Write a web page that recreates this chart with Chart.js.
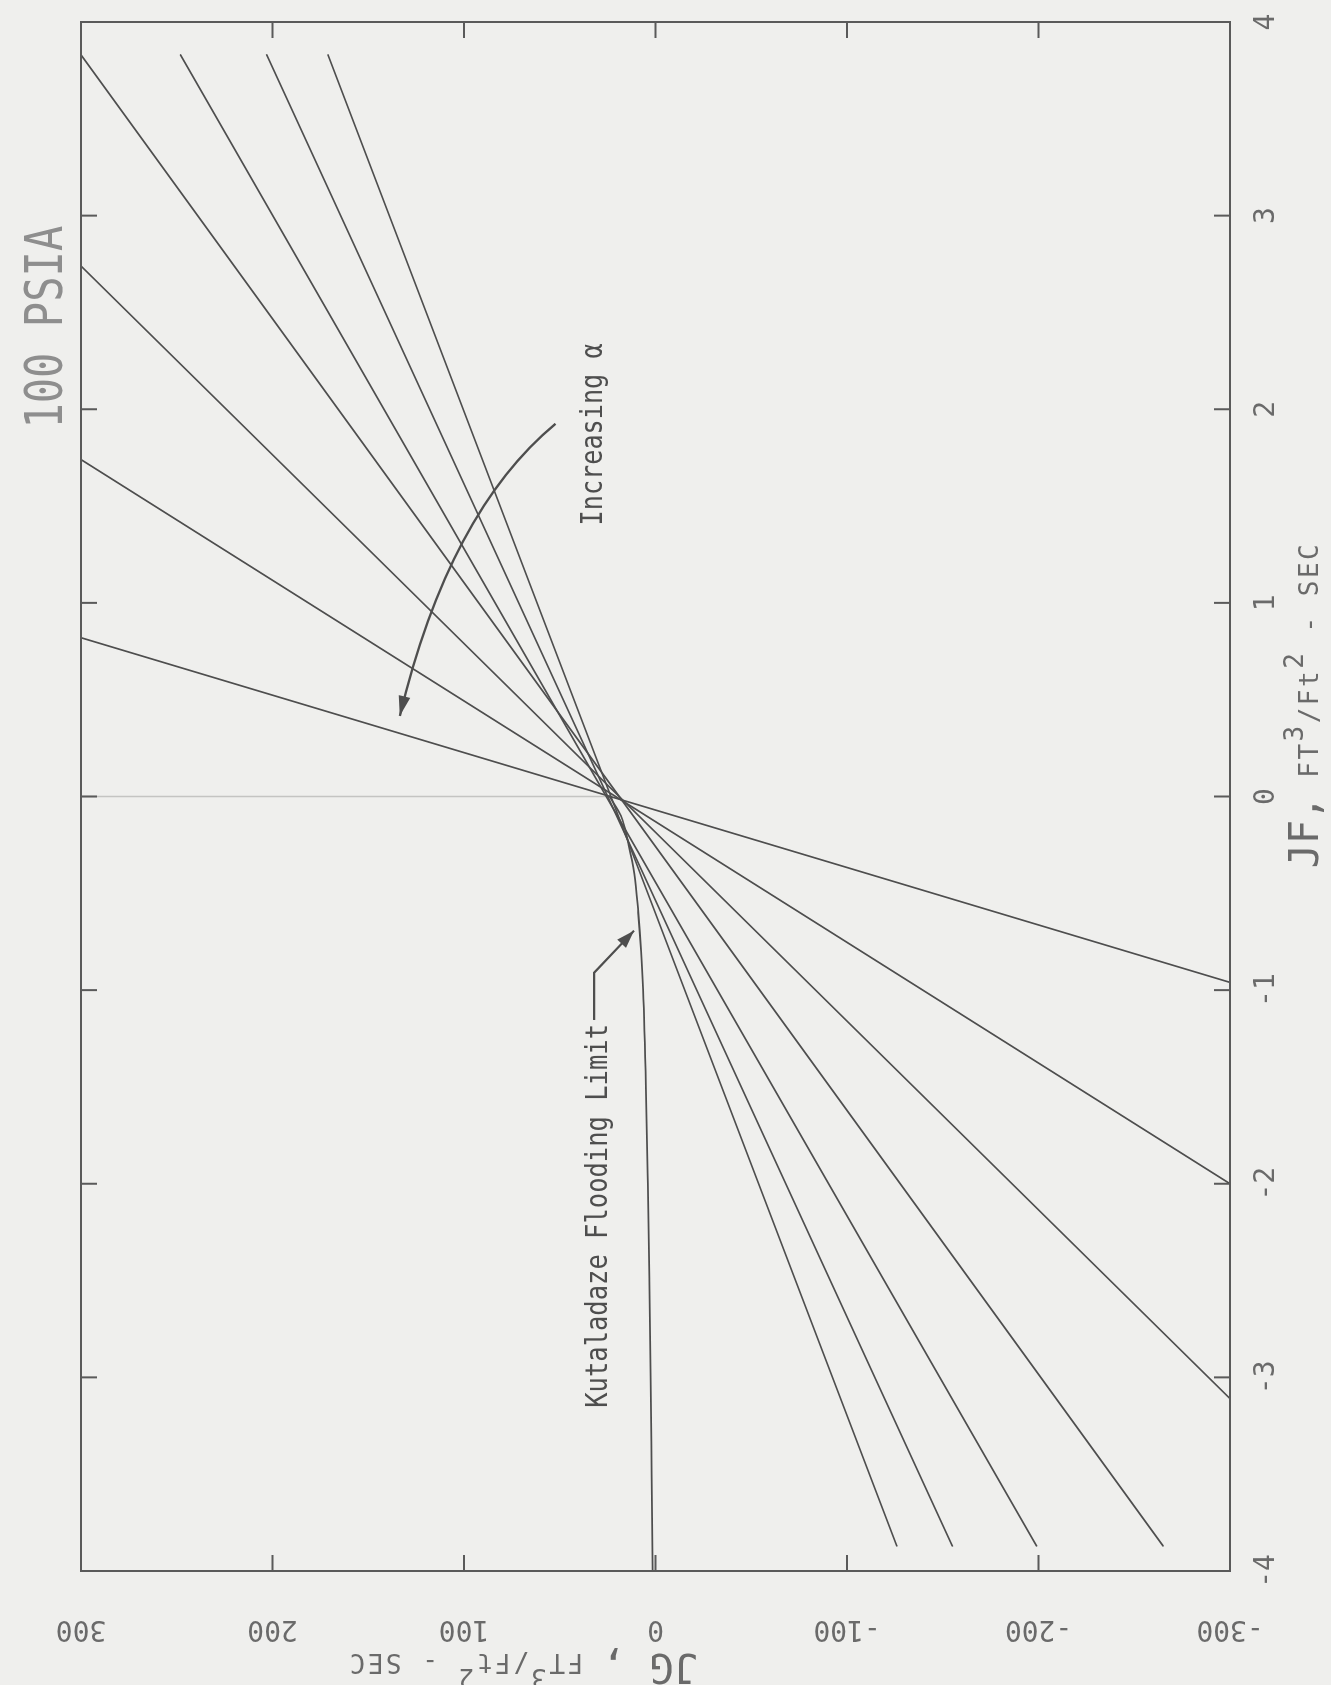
<!DOCTYPE html>
<html>
<head>
<meta charset="utf-8">
<title>100 PSIA</title>
<script src="https://cdn.jsdelivr.net/npm/chart.js@4.4.1/dist/chart.umd.min.js"></script>
<style>
  html, body { margin: 0; padding: 0; background: #efefed; overflow: hidden; }
  #page { position: absolute; left: 0; top: 0; width: 1331px; height: 1685px; overflow: hidden; background: #efefed; }
  /* the figure is laid out landscape and turned a quarter turn on the page */
  #sheet { position: absolute; left: 0; top: 0; width: 1685px; height: 1331px;
           transform-origin: 0 0; transform: translate(0px, 1685px) rotate(-90deg); }
</style>
</head>
<body>
<div id="page"><div id="sheet"><canvas id="fig" width="1685" height="1331"></canvas></div></div>
<script>
// Lines of constant void fraction: end points (JF, JG) of each line
const jfUpper = [3.83, 3.83, 3.83, 3.83, 2.74, 1.74, 0.82];
const jgUpper = [171, 203, 248, 300, 300, 300, 300];
const jfLower = [-3.87, -3.87, -3.87, -3.87, -3.11, -2.00, -0.96];
const jgLower = [-126, -155, -199, -265, -300, -300, -300];

// Kutateladze flooding limit
const floodJF = [0, -0.1, -0.25, -0.4, -0.6, -0.8, -1.0, -1.5, -2.0, -2.5, -3.0, -3.5, -4.0];
const floodJG = [24, 18, 14, 11, 9, 7.5, 6.5, 5, 4, 3.2, 2.5, 2, 1.5];

// JF = 0 reference line above the crossing point
const zeroJF = [0, 0];
const zeroJG = [300, 24];

// Axis ticks
const jfTicks = [-4, -3, -2, -1, 0, 1, 2, 3, 4];
const jgTicks = [300, 200, 100, 0, -100, -200, -300];

// Annotation anchors, in data units (JF, JG)
const alphaLabelAt = [1.40, 28];
const alphaArrow = [[1.925, 52.2], [1.32, 100.4], [0.416, 133.5]]; // start, mid, tip
const floodLabelAt = [-3.157, 25.2];
const floodLeader = [[-0.91, 32], [-0.693, 11.2]]; // bend, tip
const jfTitleAt = -0.37;
const jgTitleAt = -22;
const plotTitleAt = 1.90;

const MONO = '"DejaVu Sans Mono", "Liberation Mono", monospace';
const INK = '#4e4e4e';

function pts(xs, ys) { return xs.map((v, i) => ({ x: v, y: ys[i] })); }

const datasets = [];
jfUpper.forEach((_, i) => {
  datasets.push({
    label: 'line ' + (i + 1),
    data: pts([jfUpper[i], jfLower[i]], [jgUpper[i], jgLower[i]]),
    borderColor: INK, borderWidth: 1.7, pointRadius: 0, showLine: true, tension: 0
  });
});
datasets.push({
  label: 'Kutateladze flooding limit',
  data: pts(floodJF, floodJG),
  borderColor: INK, borderWidth: 1.8, pointRadius: 0, showLine: true,
  cubicInterpolationMode: 'monotone'
});
datasets.push({
  label: 'JF = 0',
  data: pts(zeroJF, zeroJG),
  borderColor: '#c4c4c2', borderWidth: 1.5, pointRadius: 0, showLine: true
});

// draws a run of text pieces, each with its own font, raise and letter spacing
function drawRuns(ctx, runs, x0, y0) {
  let x = x0;
  runs.forEach(r => {
    ctx.font = r.font;
    const gap = r.gap || 0;
    for (const ch of r.text) {
      ctx.fillText(ch, x, y0 + (r.dy || 0));
      x += ctx.measureText(ch).width + gap;
    }
  });
  return x;
}

// text squeezed horizontally
function drawNarrow(ctx, text, x0, y0, font, sx) {
  ctx.save();
  ctx.translate(x0, y0);
  ctx.scale(sx, 1);
  ctx.font = font;
  ctx.fillText(text, 0, 0);
  const w = ctx.measureText(text).width * sx;
  ctx.restore();
  return w;
}

function arrowHead(ctx, tipX, tipY, fromX, fromY, len, half) {
  const ang = Math.atan2(tipY - fromY, tipX - fromX);
  ctx.beginPath();
  ctx.moveTo(tipX, tipY);
  ctx.lineTo(tipX - len * Math.cos(ang) + half * Math.sin(ang), tipY - len * Math.sin(ang) - half * Math.cos(ang));
  ctx.lineTo(tipX - len * Math.cos(ang) - half * Math.sin(ang), tipY - len * Math.sin(ang) + half * Math.cos(ang));
  ctx.closePath();
  ctx.fill();
}

const figurePlugin = {
  id: 'figure',
  afterDraw(chart) {
    const { ctx, chartArea: a, scales: { x, y } } = chart;
    ctx.save();

    // frame with inward ticks on all four sides
    ctx.strokeStyle = '#5a5a5a';
    ctx.lineWidth = 2;
    ctx.strokeRect(a.left, a.top, a.right - a.left, a.bottom - a.top);
    const tl = 16;
    ctx.beginPath();
    jfTicks.forEach(v => {
      if (Math.abs(v) === 4) return;
      const px = x.getPixelForValue(v);
      ctx.moveTo(px, a.bottom); ctx.lineTo(px, a.bottom - tl);
      ctx.moveTo(px, a.top); ctx.lineTo(px, a.top + tl);
    });
    jgTicks.forEach(v => {
      if (Math.abs(v) === 300) return;
      const py = y.getPixelForValue(v);
      ctx.moveTo(a.left, py); ctx.lineTo(a.left + tl, py);
      ctx.moveTo(a.right, py); ctx.lineTo(a.right - tl, py);
    });
    ctx.stroke();

    // JF tick labels
    ctx.fillStyle = '#6a6a6a';
    ctx.font = '28px ' + MONO;
    ctx.textAlign = 'center';
    ctx.textBaseline = 'alphabetic';
    jfTicks.forEach(v => ctx.fillText(String(v), x.getPixelForValue(v), a.bottom + 44));

    // JG tick labels, turned
    jgTicks.forEach(v => {
      ctx.save();
      ctx.translate(a.left - 50, y.getPixelForValue(v));
      ctx.rotate(-Math.PI / 2);
      ctx.fillText(String(v), 0, 0);
      ctx.restore();
    });

    // axis titles
    ctx.textAlign = 'left';
    const big = '40px ' + MONO, small = '26px ' + MONO;
    const unitRuns = [
      { text: ' FT', font: small, gap: 2.5 }, { text: '3', font: small, dy: -15, gap: 2.5 },
      { text: '/Ft', font: small, gap: 2.5 }, { text: '2', font: small, dy: -15, gap: 2.5 },
      { text: ' - SEC', font: small, gap: 2.5 }
    ];
    drawRuns(ctx, [{ text: 'JF,', font: big }].concat(unitRuns), x.getPixelForValue(jfTitleAt), a.bottom + 88);
    ctx.save();
    ctx.translate(a.left - 83, y.getPixelForValue(jgTitleAt));
    ctx.rotate(-Math.PI / 2);
    drawRuns(ctx, [{ text: 'JG ,', font: big }].concat(unitRuns), 0, 0);
    ctx.restore();

    // plot title
    ctx.fillStyle = '#8e8e8e';
    drawNarrow(ctx, '100 PSIA', x.getPixelForValue(plotTitleAt), a.top - 19, '52px ' + MONO, 0.81);

    // "Increasing α" with curved arrow
    ctx.fillStyle = INK;
    ctx.strokeStyle = INK;
    const noteFont = '30px ' + MONO;
    drawNarrow(ctx, 'Increasing α', x.getPixelForValue(alphaLabelAt[0]), y.getPixelForValue(alphaLabelAt[1]), noteFont, 0.84);
    const P = alphaArrow.map(p => [x.getPixelForValue(p[0]), y.getPixelForValue(p[1])]);
    const cx = 2 * P[1][0] - (P[0][0] + P[2][0]) / 2;
    const cy = 2 * P[1][1] - (P[0][1] + P[2][1]) / 2;
    ctx.lineWidth = 2.4;
    ctx.beginPath();
    ctx.moveTo(P[0][0], P[0][1]);
    ctx.quadraticCurveTo(cx, cy, P[2][0], P[2][1]);
    ctx.stroke();
    arrowHead(ctx, P[2][0], P[2][1], cx, cy, 20, 6);

    // flooding limit label with leader
    const fx = x.getPixelForValue(floodLabelAt[0]), fy = y.getPixelForValue(floodLabelAt[1]);
    const fw = drawNarrow(ctx, 'Kutaladaze Flooding Limit', fx, fy, noteFont, 0.85);
    const endX = fx + fw + 4;
    const lyY = y.getPixelForValue(floodLeader[0][1]);
    const bx = x.getPixelForValue(floodLeader[0][0]);
    const tx = x.getPixelForValue(floodLeader[1][0]), ty = y.getPixelForValue(floodLeader[1][1]);
    ctx.lineWidth = 2.2;
    ctx.beginPath();
    ctx.moveTo(endX, lyY);
    ctx.lineTo(bx, lyY);
    ctx.lineTo(tx, ty);
    ctx.stroke();
    arrowHead(ctx, tx, ty, bx, lyY, 18, 6);

    ctx.restore();
  }
};

new Chart(document.getElementById('fig'), {
  type: 'scatter',
  data: { datasets },
  options: {
    responsive: false,
    animation: false,
    layout: { padding: { left: 114, right: 22, top: 81, bottom: 101 } },
    scales: {
      x: { type: 'linear', min: -4, max: 4, display: false },
      y: { type: 'linear', min: -300, max: 300, display: false }
    },
    plugins: { legend: { display: false }, tooltip: { enabled: false } },
    elements: { line: { borderCapStyle: 'round' } }
  },
  plugins: [figurePlugin]
});
</script>
</body>
</html>
